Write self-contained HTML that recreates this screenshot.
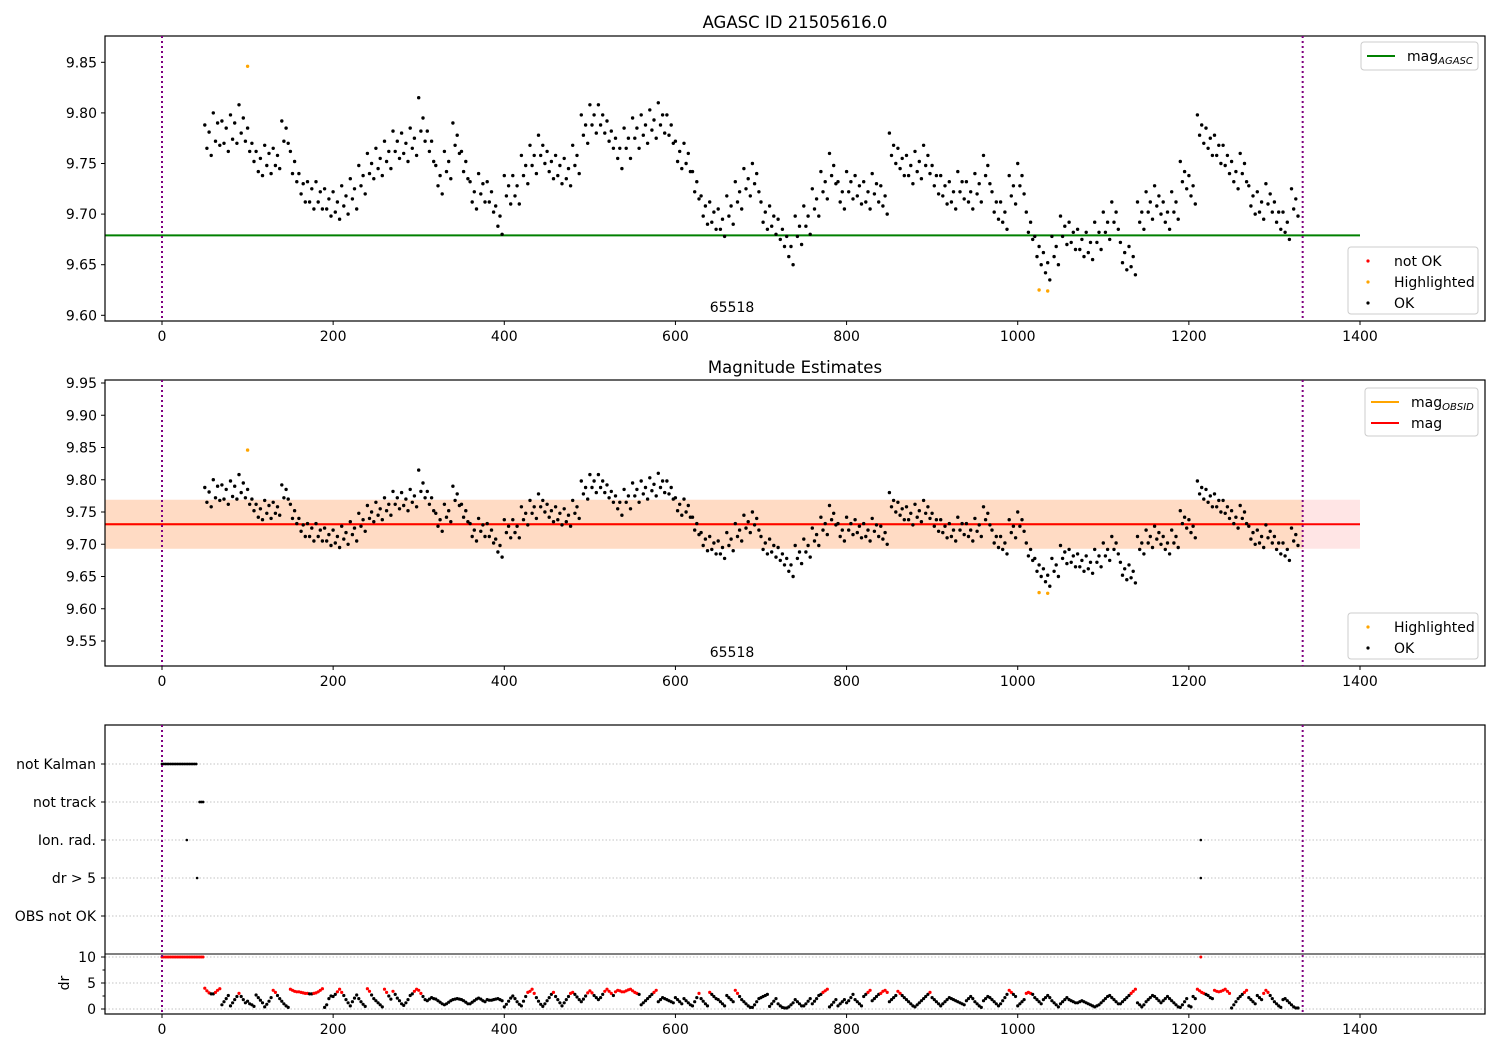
<!DOCTYPE html>
<html><head><meta charset="utf-8">
<style>
html,body{margin:0;padding:0;background:#fff;}
svg{display:block;font-family:"DejaVu Sans","Liberation Sans",sans-serif;}
</style></head>
<body>
<svg id="chart" width="1500" height="1050" viewBox="0 0 1500 1050" xmlns="http://www.w3.org/2000/svg">
<rect width="1500" height="1050" fill="#fff"/>
<g id="layer"></g>
</svg>
<script>
// ---- data ----
const tBins = [50,60,70,80,90,100,110,120,130,140,150,160,170,180,190,200,210,220,230,240,250,260,270,280,290,300,310,320,330,340,350,360,370,380,390,400,410,420,430,440,450,460,470,480,490,500,510,520,530,540,550,560,570,580,590,600,610,620,630,640,650,660,670,680,690,700,710,720,730,740,750,760,770,780,790,800,810,820,830,840,850,860,870,880,890,900,910,920,930,940,950,960,970,980,990,1000,1010,1020,1030,1040,1050,1060,1070,1080,1090,1100,1110,1120,1130,1140,1150,1160,1170,1180,1190,1200,1210,1220,1230,1240,1250,1260,1270,1280,1290,1300,1310,1320];
const magObs = [
[9.788,9.765,9.781,9.758],[9.800,9.772,9.790,9.768],[9.792,9.770,9.785,9.762],[9.798,9.774,9.790,9.770],[9.808,9.780,9.795,9.772],
[9.785,9.762,9.770,9.752],[9.762,9.742,9.755,9.738],[9.768,9.748,9.760,9.740],[9.765,9.748,9.758,9.745],[9.792,9.772,9.785,9.770],
[9.762,9.740,9.752,9.732],[9.740,9.720,9.730,9.712],[9.732,9.712,9.725,9.705],[9.732,9.712,9.722,9.705],[9.725,9.705,9.715,9.698],
[9.722,9.702,9.712,9.695],[9.728,9.708,9.718,9.700],[9.735,9.715,9.725,9.705],[9.748,9.728,9.738,9.720],[9.760,9.740,9.750,9.735],
[9.765,9.745,9.755,9.738],[9.772,9.752,9.762,9.745],[9.782,9.762,9.772,9.755],[9.780,9.760,9.770,9.752],[9.785,9.765,9.775,9.758],
[9.815,9.782,9.795,9.772],[9.782,9.762,9.772,9.752],[9.748,9.728,9.738,9.720],[9.762,9.742,9.752,9.735],[9.790,9.768,9.778,9.760],
[9.762,9.742,9.752,9.735],[9.732,9.712,9.722,9.705],[9.740,9.720,9.730,9.712],[9.732,9.712,9.722,9.702],[9.708,9.688,9.698,9.680],
[9.738,9.718,9.728,9.710],[9.738,9.718,9.728,9.710],[9.758,9.738,9.748,9.730],[9.768,9.748,9.758,9.740],[9.778,9.758,9.768,9.750],
[9.762,9.742,9.752,9.735],[9.758,9.738,9.748,9.730],[9.755,9.735,9.745,9.728],[9.768,9.748,9.758,9.740],[9.798,9.778,9.788,9.770],
[9.808,9.788,9.798,9.780],[9.808,9.788,9.798,9.780],[9.792,9.772,9.782,9.765],[9.775,9.755,9.765,9.745],[9.785,9.765,9.775,9.755],
[9.795,9.775,9.785,9.765],[9.798,9.778,9.788,9.770],[9.803,9.783,9.793,9.775],[9.810,9.788,9.798,9.780],[9.798,9.778,9.788,9.770],
[9.772,9.752,9.762,9.745],[9.770,9.750,9.760,9.742],[9.742,9.722,9.732,9.715],[9.718,9.698,9.708,9.690],[9.712,9.692,9.702,9.685],
[9.705,9.685,9.695,9.678],[9.718,9.698,9.708,9.690],[9.732,9.712,9.722,9.705],[9.745,9.725,9.735,9.718],[9.750,9.730,9.740,9.722],
[9.712,9.692,9.702,9.685],[9.708,9.688,9.698,9.680],[9.695,9.675,9.685,9.668],[9.678,9.658,9.668,9.650],[9.698,9.678,9.688,9.670],
[9.708,9.688,9.698,9.680],[9.725,9.705,9.715,9.698],[9.742,9.722,9.732,9.715],[9.760,9.738,9.748,9.730],[9.732,9.712,9.722,9.705],
[9.742,9.722,9.732,9.715],[9.738,9.718,9.728,9.710],[9.732,9.712,9.722,9.705],[9.740,9.720,9.730,9.712],[9.728,9.708,9.718,9.700],
[9.780,9.758,9.768,9.750],[9.765,9.745,9.755,9.738],[9.758,9.738,9.748,9.730],[9.762,9.742,9.752,9.735],[9.768,9.748,9.758,9.740],
[9.748,9.728,9.738,9.720],[9.738,9.718,9.728,9.710],[9.732,9.712,9.722,9.705],[9.742,9.722,9.732,9.715],[9.732,9.712,9.722,9.705],
[9.740,9.720,9.730,9.712],[9.758,9.738,9.748,9.730],[9.722,9.702,9.712,9.695],[9.712,9.692,9.702,9.685],[9.738,9.718,9.728,9.710],
[9.750,9.728,9.738,9.720],[9.702,9.682,9.692,9.675],[9.678,9.658,9.668,9.650],[9.662,9.642,9.652,9.635],[9.678,9.658,9.668,9.650],
[9.698,9.678,9.688,9.670],[9.692,9.672,9.682,9.665],[9.685,9.665,9.675,9.658],[9.682,9.662,9.672,9.655],[9.692,9.672,9.682,9.665],
[9.702,9.682,9.692,9.675],[9.712,9.692,9.702,9.685],[9.672,9.652,9.662,9.645],[9.668,9.648,9.658,9.640],[9.712,9.692,9.702,9.685],
[9.722,9.702,9.712,9.695],[9.728,9.708,9.718,9.700],[9.712,9.692,9.702,9.685],[9.722,9.702,9.712,9.695],[9.752,9.732,9.742,9.725],
[9.738,9.718,9.728,9.710],[9.798,9.778,9.788,9.770],[9.785,9.765,9.775,9.758],[9.778,9.758,9.768,9.750],[9.768,9.748,9.758,9.740],
[9.752,9.732,9.742,9.725],[9.760,9.740,9.750,9.732],[9.728,9.708,9.718,9.700],[9.722,9.702,9.712,9.695],[9.730,9.710,9.720,9.702],
[9.712,9.692,9.702,9.685],[9.702,9.682,9.692,9.675],[9.725,9.705,9.715,9.698]];
const drObs = [
[4.0,3.5,3.1,2.9],[2.9,3.2,3.6,3.9],[0.8,1.4,2.0,2.6],[0.6,1.2,1.8,2.4],[3.0,2.4,1.8,1.2],[1.5,1.0,0.8,0.5],[2.7,2.2,1.7,1.2],[0.4,0.9,1.5,2.2],
[3.6,3.2,2.6,2.0],[1.5,1.0,0.6,0.3],[3.8,3.6,3.4,3.3],[3.3,3.2,3.1,3.0],[3.0,2.9,2.9,3.0],[3.1,3.3,3.6,3.9],[0.3,0.8,2.0,2.5],[2.4,2.8,3.3,3.8],
[3.2,2.6,1.8,1.2],[0.6,1.4,2.1,2.7],[2.0,1.4,0.9,0.5],[3.9,3.4,2.7,2.0],[1.6,1.2,0.8,0.4],[3.8,3.2,2.5,1.9],[3.4,2.8,2.1,1.6],[1.0,0.7,1.2,1.8],
[2.6,2.9,3.4,3.8],[3.6,3.0,2.4,1.8],[1.6,1.9,2.2,2.0],[1.9,1.6,1.3,1.0],[0.8,1.0,1.3,1.6],[1.8,1.9,2.0,1.9],[1.8,1.6,1.3,1.0],[1.0,1.3,1.6,1.9],
[2.1,1.9,1.6,1.4],[1.8,1.7,1.7,1.8],[1.9,2.0,1.8,1.6],[0.4,0.9,1.5,2.1],[2.5,2.0,1.4,0.9],[0.6,1.5,2.4,3.2],[3.4,3.8,3.0,2.2],[1.5,0.9,0.5,1.0],
[1.6,2.2,2.8,3.2],[2.4,1.8,1.2,0.6],[1.2,1.8,2.4,3.0],[3.2,2.8,2.3,1.8],[1.4,1.9,2.5,3.1],[3.5,3.1,2.6,2.2],[1.8,2.2,2.8,3.4],[3.8,3.4,3.0,2.6],
[3.3,3.6,3.5,3.3],[3.3,3.5,3.7,3.8],[3.5,3.2,3.0,2.8],[0.8,1.2,1.6,2.0],[2.4,2.8,3.2,3.6],[1.4,1.8,2.2,2.0],[1.8,1.6,1.4,1.2],[2.2,1.8,1.4,1.0],
[2.0,1.6,1.2,0.8],[0.6,1.4,2.2,3.0],[2.0,1.5,1.0,0.6],[3.2,2.8,2.4,2.0],[1.8,1.4,1.0,0.6],[2.6,2.2,1.8,1.4],[3.6,3.0,2.4,1.8],[1.4,1.0,0.6,0.3],
[0.3,0.8,1.4,2.0],[2.2,2.4,2.6,2.8],[0.5,1.0,1.5,2.0],[1.0,0.6,0.3,0.2],[0.2,0.4,0.8,1.2],[1.8,1.4,1.0,0.6],[0.6,1.0,1.5,2.0],[1.0,1.5,2.0,2.6],
[2.8,3.2,3.5,3.8],[0.4,0.8,1.3,1.8],[0.6,1.0,1.4,1.8],[1.2,1.6,2.2,2.8],[1.8,1.4,1.0,0.6],[2.4,2.8,3.2,3.6],[1.6,2.0,2.4,2.8],[3.0,3.4,3.6,3.2],
[1.4,1.8,2.2,2.6],[3.4,3.0,2.6,2.2],[1.8,1.4,1.0,0.6],[0.4,0.8,1.2,1.6],[2.0,2.4,2.8,3.2],[2.2,1.8,1.4,1.0],[0.6,1.0,1.4,1.8],[2.2,2.0,1.8,1.6],
[1.4,1.2,1.0,0.8],[1.6,2.0,2.4,2.0],[1.4,1.0,0.6,0.3],[1.6,2.0,2.4,2.2],[1.8,1.4,1.0,0.6],[1.0,1.6,2.2,2.8],[3.6,3.2,2.8,2.4],[0.6,1.0,1.4,1.8],
[3.0,3.2,3.0,2.8],[2.2,1.8,1.4,1.0],[1.8,2.2,2.6,2.2],[1.6,1.2,0.8,0.4],[1.0,1.4,1.8,2.2],[1.8,1.6,1.4,1.2],[1.2,1.4,1.6,1.4],[1.2,1.0,0.8,0.6],
[0.4,0.6,0.8,1.2],[1.6,2.0,2.4,2.6],[2.2,1.8,1.4,1.0],[1.0,1.4,1.8,2.2],[2.6,3.0,3.4,3.8],[1.2,0.8,0.4,0.8],[1.4,1.8,2.2,2.6],[2.4,2.0,1.6,1.2],
[1.6,2.0,2.4,2.0],[1.6,1.2,0.8,0.4],[0.3,0.8,1.4,2.0],[0.6,0.4,2.4,2.0],[3.8,3.5,3.2,3.0],[2.8,2.6,2.2,2.0],[3.6,3.4,3.3,3.4],[3.6,3.8,3.4,3.0],
[0.2,0.8,1.4,2.0],[2.4,2.8,3.2,3.6],[2.2,1.8,1.4,1.0],[2.6,2.2,1.8,3.0],[3.6,3.2,2.6,2.0],[1.4,1.0,0.6,0.3],[1.8,2.0,1.6,1.2],[0.8,0.4,0.2,0.2]];
const highlightT = [100, 1025, 1035];
const highlightMag = [9.846, 9.625, 9.624];
const earlyDrT = [0,2,4,6,8,10,12,14,16,18,20,22,24,26,28,30,32,34,36,38,40,42,44,46,48,1214];
const earlyDrV = [10,10,10,10,10,10,10,10,10,10,10,10,10,10,10,10,10,10,10,10,10,10,10,10,10,10];
const notKalmanT = [0,2,4,6,8,10,12,14,16,18,20,22,24,26,28,30,32,34,36,38,40];
const notTrackT = [44,46,48];
const ionRadT = [29,1214];
const drGt5T = [41,1214];
const flagRows = ["not Kalman","not track","Ion. rad.","dr > 5","OBS not OK"];
const magAgasc = 9.679;
const magMean = 9.731;
const magStd = 0.038;
const tStart = 0, tEnd = 1333, tBandEnd = 1400;
const obsid = "65518";
const xTicks = [0,200,400,600,800,1000,1200,1400];
const y1Ticks = [9.60,9.65,9.70,9.75,9.80,9.85];
const y2Ticks = [9.55,9.60,9.65,9.70,9.75,9.80,9.85,9.90,9.95];
const drTicks = [0,5,10];

// ---- scales ----
const L = 105, R = 1485;
const X = t => 162 + t * (1198/1400);
const Y1 = m => 62.3 + (9.85 - m) * 1012;
const Y2 = m => 383 + (9.95 - m) * 645;
const YD = d => 1009 - d * 5.2;
const rowY = i => 764 + i * 38;

const NS = "http://www.w3.org/2000/svg";
const layer = document.getElementById('layer');
function mk(tag, attrs, parent) {
  const e = document.createElementNS(NS, tag);
  for (const k in attrs) e.setAttribute(k, attrs[k]);
  (parent || layer).appendChild(e);
  return e;
}
function txt(s, x, y, anchor, size, parent) {
  const e = mk('text', {x: x, y: y, 'text-anchor': anchor, 'font-size': size, fill: '#000'}, parent);
  e.textContent = s;
  return e;
}
function axesFrame(name) {
  const g = mk('g', {});
  
  
  return g;
}

// Panel 1
const p1 = axesFrame('agasc-panel');
const p1clip = mk('clipPath', {id: 'c1'}, p1); mk('rect', {x: L, y: 36, width: R-L, height: 285}, p1clip);
const p1data = mk('g', {'clip-path': 'url(#c1)'}, p1);
const agLine = mk('line', {x1: L, x2: X(tBandEnd), y1: Y1(magAgasc), y2: Y1(magAgasc), stroke: '#008000', 'stroke-width': 2}, p1data);


// Panel 2
const p2 = axesFrame('magnitude-panel');
const p2clip = mk('clipPath', {id: 'c2'}, p2); mk('rect', {x: L, y: 380, width: R-L, height: 286}, p2clip);
const p2data = mk('g', {'clip-path': 'url(#c2)'}, p2);
const band1 = mk('rect', {x: L, y: Y2(magMean + magStd), width: X(tBandEnd) - L, height: Y2(magMean - magStd) - Y2(magMean + magStd), fill: '#ff0000', 'fill-opacity': 0.1}, p2data);


const band2 = mk('rect', {x: L, y: Y2(magMean + magStd), width: X(tEnd) - L, height: Y2(magMean - magStd) - Y2(magMean + magStd), fill: '#ffa500', 'fill-opacity': 0.14}, p2data);


const obsLine = mk('line', {x1: L, x2: X(tEnd), y1: Y2(magMean), y2: Y2(magMean), stroke: '#ffa500', 'stroke-width': 2}, p2data);


const magLine = mk('line', {x1: L, x2: X(tBandEnd), y1: Y2(magMean), y2: Y2(magMean), stroke: '#ff0000', 'stroke-width': 2}, p2data);



// Panel 3
const p3 = axesFrame('flags-panel');
flagRows.forEach((lab, i) => {
  const gl = mk('line', {x1: L, x2: R, y1: rowY(i), y2: rowY(i), stroke: '#b0b0b0', 'stroke-width': 0.8, 'stroke-dasharray': '1.5,2'}, p3);
  
  
  mk('line', {x1: L-4, x2: L, y1: rowY(i), y2: rowY(i), stroke: '#000'}, p3);
  const t = txt(lab, L-9, rowY(i)+5, 'end', 14, p3);
  
  
});
drTicks.forEach(d => {
  mk('line', {x1: L, x2: R, y1: YD(d), y2: YD(d), stroke: '#b0b0b0', 'stroke-width': 0.8, 'stroke-dasharray': '1.5,2'}, p3);
  mk('line', {x1: L-4, x2: L, y1: YD(d), y2: YD(d), stroke: '#000'}, p3);
  const t = txt(String(d), L-9, YD(d)+5, 'end', 14, p3);
  
  
});
[2.5, 7.5].forEach(d => mk('line', {x1: L-2.5, x2: L, y1: YD(d), y2: YD(d), stroke: '#000'}, p3));
const drLab = txt('dr', 0, 0, 'middle', 14, p3);
drLab.setAttribute('transform', 'translate(69,983) rotate(-90)');



// ---- points ----
function dot(g, x, y, color, r, name) {
  const c = mk('circle', {cx: x.toFixed(1), cy: y.toFixed(1), r: r, fill: color}, g);
  
  
}
tBins.forEach((tb, i) => {
  magObs[i].forEach((m, k) => {
    const t = tb + k * 2.5;
    dot(p1data, X(t), Y1(m), '#000', 1.7, 'ok-point');
    dot(p2data, X(t), Y2(m), '#000', 1.7, 'ok-point');
  });
  drObs[i].forEach((d, k) => {
    const t = tb + k * 2.5;
    dot(p3, X(t), YD(d), d >= 3 ? '#ff0000' : '#000', 1.6, 'dr-point');
  });
});
highlightT.forEach((t, i) => {
  dot(p1data, X(t), Y1(highlightMag[i]), '#ffa500', 1.7, 'highlighted-point');
  dot(p2data, X(t), Y2(highlightMag[i]), '#ffa500', 1.7, 'highlighted-point');
});
earlyDrT.forEach((t, i) => dot(p3, X(t), YD(earlyDrV[i]), '#ff0000', 1.5, 'dr-point'));
notKalmanT.forEach(t => dot(p3, X(t), rowY(0), '#000', 1.4, 'not-kalman-point'));
notTrackT.forEach(t => dot(p3, X(t), rowY(1), '#000', 1.4, 'not-track-point'));
ionRadT.forEach(t => dot(p3, X(t), rowY(2), '#000', 1.3, 'ion-rad-point'));
drGt5T.forEach(t => dot(p3, X(t), rowY(3), '#000', 1.3, 'dr-gt5-point'));

// ---- frames, ticks ----
function frame(g, top, bottom, yTicks, Yf) {
  mk('rect', {x: L, y: top, width: R-L, height: bottom-top, fill: 'none', stroke: '#000', 'stroke-width': 1.2}, g);
  xTicks.forEach(t => {
    mk('line', {x1: X(t), x2: X(t), y1: bottom, y2: bottom+4, stroke: '#000'}, g);
    const e = txt(String(t), X(t), bottom+20, 'middle', 14, g);
    
    
  });
  if (yTicks) yTicks.forEach(v => {
    mk('line', {x1: L-4, x2: L, y1: Yf(v), y2: Yf(v), stroke: '#000'}, g);
    const e = txt(v.toFixed(2), L-8, Yf(v)+5, 'end', 14, g);
    
    
  });
  [tStart, tEnd].forEach(t => mk('line', {x1: X(t), x2: X(t), y1: top, y2: bottom, stroke: '#800080', 'stroke-width': 2, 'stroke-dasharray': '2,3'}, g));
}
frame(p1, 36, 321, y1Ticks, Y1);
frame(p2, 380, 666, y2Ticks, Y2);
frame(p3, 725, 1014, null, null);
mk('line', {x1: L, x2: R, y1: 954, y2: 954, stroke: '#000', 'stroke-width': 1}, p3);

// titles & labels
const t1 = txt('AGASC ID 21505616.0', 795, 28, 'middle', 16.5, p1);


const t2 = txt('Magnitude Estimates', 795, 373, 'middle', 16.5, p2);


const o1 = txt(obsid, 732, 312, 'middle', 14, p1);


const o2 = txt(obsid, 732, 657, 'middle', 14, p2);



// ---- legends ----
function legend(x, y, w, h, items, name) {
  const g = mk('g', {});
  
  
  mk('rect', {x: x, y: y, width: w, height: h, rx: 3, fill: '#fff', 'fill-opacity': 0.8, stroke: '#cccccc'}, g);
  items.forEach((it, i) => {
    const cy = y + 14 + i * 21;
    if (it.type === 'line') mk('line', {x1: x+6, x2: x+34, y1: cy, y2: cy, stroke: it.color, 'stroke-width': 2}, g);
    else mk('circle', {cx: x+20, cy: cy, r: 1.6, fill: it.color}, g);
    const tx = mk('text', {x: x+46, y: cy+5, 'font-size': 14, fill: '#000'}, g);
    tx.innerHTML = it.label;
  });
}
legend(1361, 42, 117, 28, [{type:'line', color:'#008000', label:'mag<tspan font-size="10" font-style="italic" dy="3">AGASC</tspan>'}], 'agasc-legend');
legend(1348, 247, 130, 67, [{type:'dot', color:'#ff0000', label:'not OK'},{type:'dot', color:'#ffa500', label:'Highlighted'},{type:'dot', color:'#000', label:'OK'}], 'point-legend');
legend(1365, 388, 113, 48, [{type:'line', color:'#ffa500', label:'mag<tspan font-size="10" font-style="italic" dy="3">OBSID</tspan>'},{type:'line', color:'#ff0000', label:'mag'}], 'mag-legend');
legend(1348, 613, 130, 46, [{type:'dot', color:'#ffa500', label:'Highlighted'},{type:'dot', color:'#000', label:'OK'}], 'estimate-point-legend');
</script>
</body></html>
